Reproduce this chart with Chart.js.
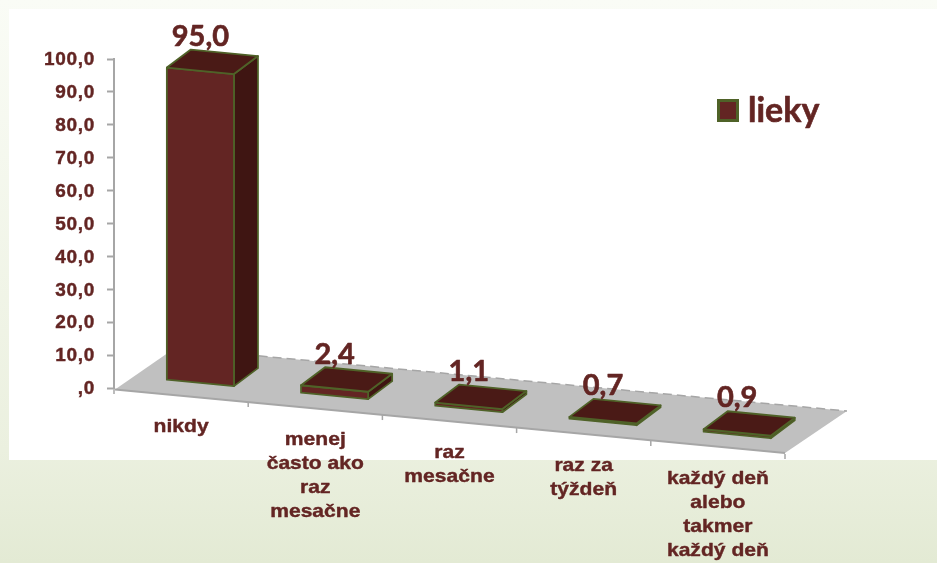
<!DOCTYPE html>
<html>
<head>
<meta charset="utf-8">
<title>lieky</title>
<script src="https://cdn.jsdelivr.net/npm/chart.js@4"></script>
<style>
  html, body { margin: 0; padding: 0; width: 937px; height: 563px; overflow: hidden; }
  body { background: linear-gradient(to bottom, #fafcf6 0%, #ebf0df 80%, #e3ead4 100%); position: relative; }
  #panel { position: absolute; left: 9px; top: 9px; width: 928px; height: 451px; background: #fff; }
  canvas { position: absolute; left: 0; top: 0; }
</style>
</head>
<body>
<div id="panel"></div>
<canvas id="chart" width="937" height="563"></canvas>
<script>
const seriesName = "lieky";
const categories = [
  ["nikdy"],
  ["menej", "často ako", "raz", "mesačne"],
  ["raz", "mesačne"],
  ["raz za", "týždeň"],
  ["každý deň", "alebo", "takmer", "každý deň"],
];
const values = [95.0, 2.4, 1.1, 0.7, 0.9];
const valueLabels = ["95,0", "2,4", "1,1", "0,7", "0,9"];
const tickLabels = [",0", "10,0", "20,0", "30,0", "40,0", "50,0", "60,0", "70,0", "80,0", "90,0", "100,0"];

const textColor = "#632523";
const frontColor = "#632523";
const sideColor = "#3f1512";
const topColor = "#4a1a16";
const edgeColor = "#4f6228";
const axisColor = "#a6a6a6";
const floorColor = "#c0c0c0";

// the floor runs downhill to the right, bars stand a bit behind its front edge
const slope = 0.097;
const barShift = { x: 19.3, y: -13 };
const barDepth = { x: 24, y: -18 };

function skew(scaleX, px) {
  return (px - scaleX.left) * slope;
}

function poly(ctx, pts, fill, stroke) {
  ctx.beginPath();
  pts.forEach((p, i) => (i ? ctx.lineTo(p[0], p[1]) : ctx.moveTo(p[0], p[1])));
  ctx.closePath();
  if (fill) {
    ctx.fillStyle = fill;
    ctx.fill();
  }
  if (stroke) {
    ctx.strokeStyle = stroke;
    ctx.lineWidth = 1.8;
    ctx.lineJoin = "round";
    ctx.stroke();
  }
}

// fill plus a thin outline, the original text is heavier than the plain bold
function heavyText(ctx, text, px, py, weight) {
  ctx.fillStyle = textColor;
  ctx.strokeStyle = textColor;
  ctx.lineWidth = weight;
  ctx.lineJoin = "round";
  ctx.fillText(text, px, py);
  ctx.strokeText(text, px, py);
}

function drawFloor(chart) {
  const ctx = chart.ctx;
  const x = chart.scales.x;
  const base = chart.scales.y.bottom;
  const frontLeft = [x.left + 1, base + 1.5];
  const frontRight = [x.right, base + (x.right - x.left) * slope];
  const backLeft = [x.left + 61, base - 40];
  const backRight = [x.right + 62, base + 23];

  ctx.save();
  poly(ctx, [frontLeft, backLeft, backRight, frontRight], floorColor);

  ctx.strokeStyle = axisColor;
  ctx.lineWidth = 2;
  ctx.beginPath();
  ctx.moveTo(frontLeft[0], frontLeft[1]);
  ctx.lineTo(frontRight[0], frontRight[1]);
  ctx.stroke();

  // ticks between the categories
  const step = (x.right - x.left) / categories.length;
  ctx.lineWidth = 1.5;
  for (let i = 0; i <= categories.length; i++) {
    const px = x.left + step * i;
    const py = base + skew(x, px) + 1;
    ctx.beginPath();
    ctx.moveTo(px, py);
    ctx.lineTo(px, py + 5);
    ctx.stroke();
  }

  ctx.lineWidth = 1.5;
  ctx.setLineDash([9, 5]);
  ctx.beginPath();
  ctx.moveTo(backLeft[0], backLeft[1]);
  ctx.lineTo(backRight[0], backRight[1]);
  ctx.stroke();
  ctx.restore();
}

function drawBars(chart) {
  const ctx = chart.ctx;
  const x = chart.scales.x;
  const meta = chart.getDatasetMeta(0);

  ctx.save();
  meta.data.forEach((bar, i) => {
    const half = bar.width / 2;
    const xl = bar.x - half + barShift.x;
    const xr = bar.x + half + barShift.x;
    const skL = skew(x, xl) + barShift.y;
    const skR = skew(x, xr) + barShift.y;

    const fbl = [xl, bar.base + skL];
    const fbr = [xr, bar.base + skR];
    const ftl = [xl, bar.y + skL];
    const ftr = [xr, bar.y + skR];
    const btl = [xl + barDepth.x, ftl[1] + barDepth.y];
    const btr = [xr + barDepth.x, ftr[1] + barDepth.y];
    const bbr = [xr + barDepth.x, fbr[1] + barDepth.y];

    poly(ctx, [fbr, ftr, btr, bbr], sideColor, edgeColor);
    poly(ctx, [fbl, fbr, ftr, ftl], frontColor, edgeColor);
    poly(ctx, [ftl, ftr, btr, btl], topColor, edgeColor);

    ctx.font = "bold 29px Lato";
    ctx.textAlign = "center";
    ctx.textBaseline = "alphabetic";
    heavyText(ctx, valueLabels[i], (xl + xr) / 2, (ftl[1] + ftr[1]) / 2 - 25, 0.6);
  });
  ctx.restore();
}

function drawCategoryLabels(chart) {
  const ctx = chart.ctx;
  const x = chart.scales.x;
  const base = chart.scales.y.bottom;
  ctx.save();
  ctx.font = "bold 18.5px 'Liberation Sans'";
  ctx.textAlign = "center";
  ctx.textBaseline = "alphabetic";
  categories.forEach((lines, i) => {
    const px = x.getPixelForTick(i);
    const first = base + skew(x, px) + 37;
    lines.forEach((line, n) => {
      ctx.save();
      ctx.translate(px, first + n * 24.3);
      // the original labels are stretched sideways
      ctx.scale(1.14, 1);
      heavyText(ctx, line, 0, 0, 0.4);
      ctx.restore();
    });
  });
  ctx.restore();
}

function drawLegend(chart) {
  const ctx = chart.ctx;
  ctx.save();
  ctx.fillStyle = frontColor;
  ctx.strokeStyle = edgeColor;
  ctx.lineWidth = 3;
  ctx.fillRect(718.5, 100.5, 19, 20);
  ctx.strokeRect(718.5, 100.5, 19, 20);
  ctx.font = "bold 34px Lato";
  ctx.textAlign = "left";
  ctx.textBaseline = "alphabetic";
  heavyText(ctx, chart.data.datasets[0].label, 748, 122, 0.6);
  ctx.restore();
}

const scene3d = {
  id: "scene3d",
  beforeDraw(chart) {
    chart.ctx.letterSpacing = "0.7px"; // widens the y axis labels
  },
  beforeDatasetsDraw(chart) {
    chart.ctx.letterSpacing = "0px";
    drawFloor(chart);
  },
  afterDatasetsDraw(chart) {
    drawBars(chart);
    drawCategoryLabels(chart);
    drawLegend(chart);
  },
};

new Chart(document.getElementById("chart"), {
  type: "bar",
  data: {
    labels: categories,
    datasets: [
      {
        label: seriesName,
        data: values,
        backgroundColor: "transparent",
        borderWidth: 0,
        categoryPercentage: 0.5,
        barPercentage: 1,
      },
    ],
  },
  plugins: [scene3d],
  options: {
    responsive: false,
    animation: false,
    layout: { padding: { left: 0, right: 152, top: 59, bottom: 175 } },
    plugins: {
      legend: { display: false },
      tooltip: { enabled: false },
    },
    scales: {
      x: { display: false },
      y: {
        min: 0,
        max: 100,
        afterFit(scale) {
          scale.width = 114;
        },
        ticks: {
          stepSize: 10,
          padding: 12,
          labelOffset: 1,
          color: textColor,
          textStrokeColor: textColor,
          textStrokeWidth: 0.4,
          font: { family: "'Liberation Sans'", weight: "bold", size: 19 },
          callback: (value, index) => tickLabels[index],
        },
        grid: {
          drawOnChartArea: false,
          tickLength: 7,
          tickColor: axisColor,
          tickWidth: 2,
        },
        border: { color: axisColor, width: 2 },
      },
    },
  },
});
</script>
</body>
</html>
